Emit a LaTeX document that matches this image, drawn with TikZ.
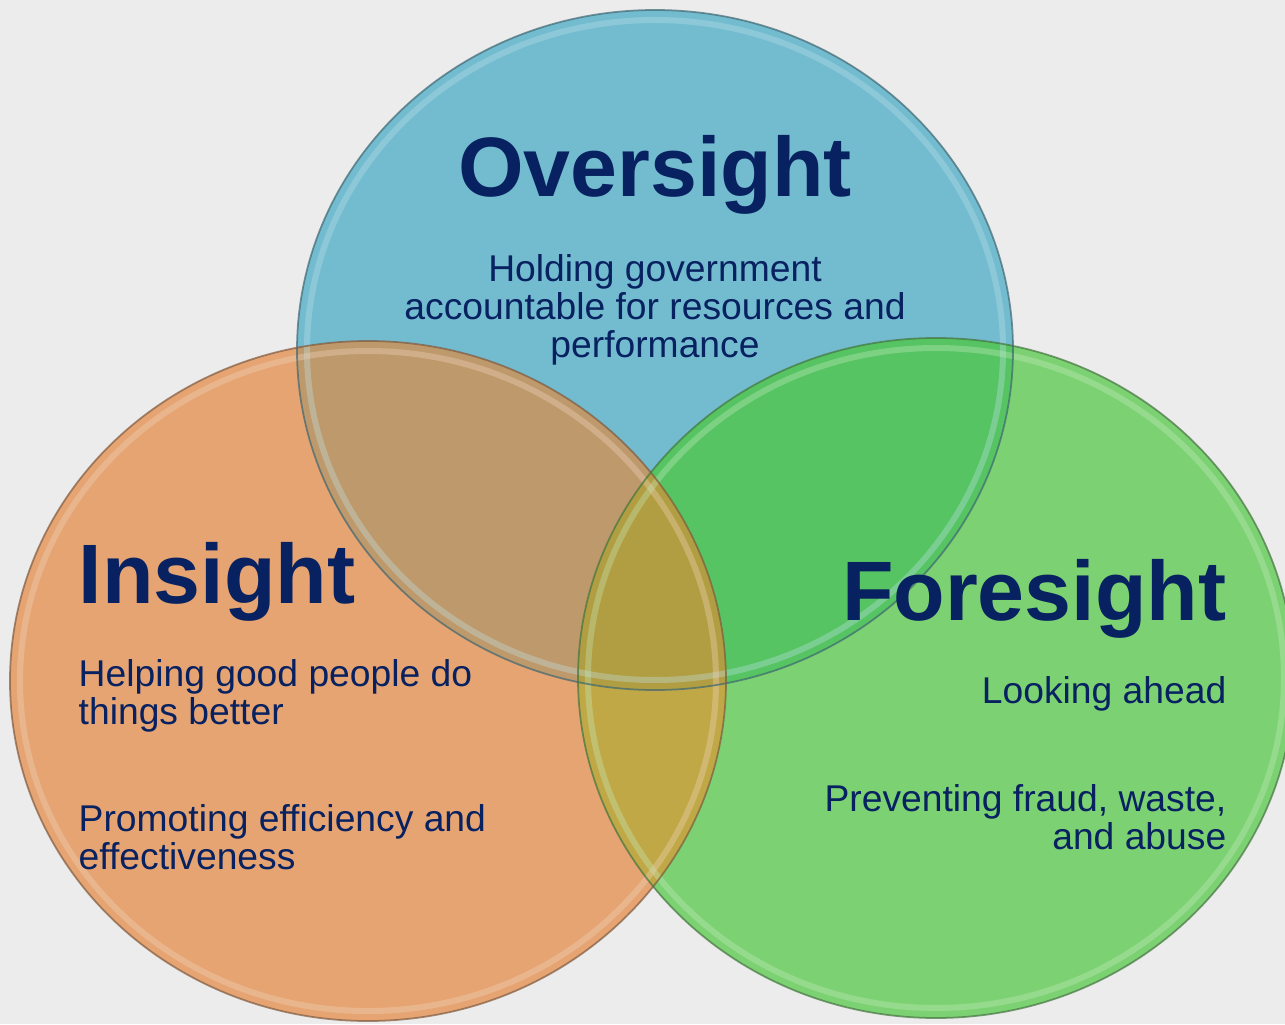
\documentclass[tikz,border=0pt]{standalone}
\usepackage{fontspec}
\setmainfont{Liberation Sans}
\usepackage{tikz}
\usetikzlibrary{positioning}
\usepackage{xcolor}
\definecolor{BgGray}{RGB}{236,236,236}
\definecolor{OverBlue}{RGB}{115,188,208}
\definecolor{InOrange}{RGB}{229,164,114}
\definecolor{ForeGreen}{RGB}{124,210,114}
\definecolor{BlueOrange}{RGB}{190,153,108}
\definecolor{BlueGreen}{RGB}{86,196,98}
\definecolor{OrangeGreen}{RGB}{192,168,70}
\definecolor{AllThree}{RGB}{178,158,66}
\definecolor{TextNavy}{RGB}{8,33,96}
\newcommand{\rxv}{3.58}
\newcommand{\ryv}{3.40}

\begin{document}
\begin{tikzpicture}[
  ttl/.style={font=\fontsize{24}{28}\selectfont\bfseries,text=TextNavy,inner sep=0pt},
  txt/.style={font=\fontsize{10.6}{10.8}\selectfont,text=TextNavy,inner sep=0pt},
  outline/.style={line width=0.5pt,draw opacity=0.7},
  hilite/.style={line width=0.6mm,draw opacity=0.35}
]
  \clip (0,0) rectangle (12.85,10.24);
  \fill[BgGray] (0,0) rectangle (12.85,10.24);
  \coordinate (cO) at (6.55,6.74);
  \coordinate (cI) at (3.68,3.43);
  \coordinate (cF) at (9.36,3.46);
  % base discs
  \fill[OverBlue] (cO) ellipse[x radius=\rxv, y radius=\ryv];
  \fill[InOrange] (cI) ellipse[x radius=\rxv, y radius=\ryv];
  \fill[ForeGreen] (cF) ellipse[x radius=\rxv, y radius=\ryv];
  % overlaps
  \begin{scope}
    \clip (cI) ellipse[x radius=\rxv, y radius=\ryv];
    \fill[OrangeGreen] (cF) ellipse[x radius=\rxv, y radius=\ryv];
  \end{scope}
  \begin{scope}
    \clip (cO) ellipse[x radius=\rxv, y radius=\ryv];
    \fill[BlueOrange] (cI) ellipse[x radius=\rxv, y radius=\ryv];
    \fill[BlueGreen] (cF) ellipse[x radius=\rxv, y radius=\ryv];
    \clip (cI) ellipse[x radius=\rxv, y radius=\ryv];
    \fill[AllThree] (cF) ellipse[x radius=\rxv, y radius=\ryv];
  \end{scope}
  % rims
  \draw[hilite,OverBlue!45!white] (cO) ellipse[x radius=\rxv-0.1, y radius=\ryv-0.1];
  \draw[hilite,InOrange!45!white] (cI) ellipse[x radius=\rxv-0.1, y radius=\ryv-0.1];
  \draw[hilite,ForeGreen!45!white] (cF) ellipse[x radius=\rxv-0.1, y radius=\ryv-0.1];
  \draw[outline,OverBlue!55!black] (cO) ellipse[x radius=\rxv, y radius=\ryv];
  \draw[outline,InOrange!55!black] (cI) ellipse[x radius=\rxv, y radius=\ryv];
  \draw[outline,ForeGreen!55!black] (cF) ellipse[x radius=\rxv, y radius=\ryv];
  % labels
  \node[ttl,anchor=base] (over) at (6.55,8.27) {Oversight};
  \node[txt,anchor=north,align=center] (overtxt) at (6.55,7.705)
    {Holding government\\accountable for resources and\\performance};
  \node[ttl,anchor=base west] (ins) at (0.78,4.21) {Insight};
  \node[txt,anchor=north west,align=left] (instxt) at (0.78,3.655)
    {Helping good people do\\things better};
  \node[txt,anchor=north west,align=left] (instxtb) at (0.78,2.205)
    {Promoting efficiency and\\effectiveness};
  \node[ttl,anchor=base east] (fore) at (12.27,4.04) {Foresight};
  \node[txt,anchor=base east] (foretxt) at (12.27,3.21) {Looking ahead};
  \node[txt,anchor=north east,align=right] (foretxtb) at (12.27,2.405)
    {Preventing fraud, waste,\\and abuse};
\end{tikzpicture}
\end{document}
